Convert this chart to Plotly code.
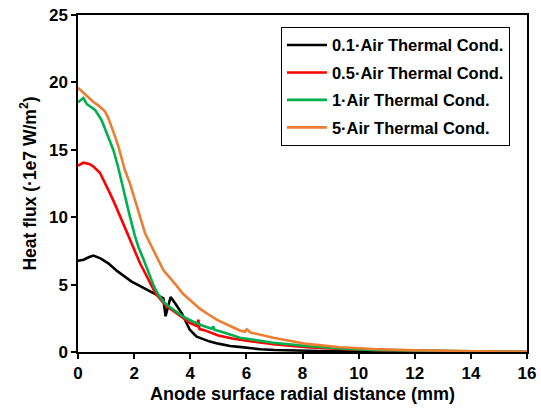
import plotly.graph_objects as go

# 0.1 x Air Thermal Cond.
x_01 = [0, 0.2, 0.4, 0.55, 0.8, 1.08, 1.4, 1.7, 1.91, 2.2, 2.57, 2.92, 3.04, 3.12, 3.2, 3.30, 3.46, 3.7, 3.87, 3.99,
        4.23, 4.5, 4.7, 5.0, 5.42, 5.83, 6.13, 6.5, 7.0, 8, 9, 10, 12, 14, 16]
y_01 = [6.77, 6.85, 7.05, 7.15, 6.95, 6.58, 6.0, 5.55, 5.22, 4.9, 4.47, 4.10, 3.98, 2.65, 3.3, 4.08, 3.61, 2.87, 2.13, 1.63,
        1.14, 0.9, 0.77, 0.62, 0.45, 0.36, 0.27, 0.2, 0.15, 0.09, 0.06, 0.04, 0.02, 0.01, 0]

# 0.5 x Air Thermal Cond.
x_05 = [0, 0.19, 0.4, 0.55, 0.78, 0.95, 1.14, 1.32, 1.50, 1.68, 1.85, 2.03, 2.21, 2.33, 2.48, 2.6, 2.75, 2.98, 3.16,
        3.46, 3.75, 4.0, 4.25, 4.29, 4.33, 4.5, 5.0, 5.5, 6.13, 6.96, 8.15, 9.34, 10.76, 12, 14, 16]
y_05 = [13.82, 14.04, 13.95, 13.75, 13.3, 12.6, 11.77, 10.95, 10.04, 9.15, 8.31, 7.45, 6.58, 6.1, 5.5, 4.95, 4.4, 3.8, 3.4,
        2.95, 2.5, 2.15, 1.92, 2.4, 1.7, 1.62, 1.22, 1.0, 0.8, 0.58, 0.36, 0.22, 0.13, 0.08, 0.04, 0]

# 1 x Air Thermal Cond.
x_1 = [0, 0.19, 0.31, 0.61, 0.84, 1.08, 1.26, 1.42, 1.56, 1.73, 1.85, 2.03, 2.15, 2.33, 2.45, 2.57, 2.7, 2.85, 3.0, 3.16,
       3.46, 3.75, 4.05, 4.4, 4.76, 4.82, 4.86, 5.2, 5.77, 6.13, 6.96, 8.15, 9.34, 10.52, 12, 14, 16]
y_1 = [18.52, 18.85, 18.4, 17.95, 17.21, 15.97, 14.99, 13.8, 12.51, 11.03, 10.04, 8.6, 7.81, 6.9, 6.2, 5.5, 4.9, 4.3, 3.85, 3.5,
       3.05, 2.62, 2.3, 1.98, 1.72, 1.9, 1.65, 1.45, 1.05, 0.94, 0.69, 0.45, 0.27, 0.16, 0.1, 0.05, 0]

# 5 x Air Thermal Cond.
x_5 = [0, 0.19, 0.37, 0.55, 0.72, 0.96, 1.08, 1.2, 1.32, 1.44, 1.67, 1.85, 2.0, 2.21, 2.39, 2.57, 2.86, 3.04, 3.46, 3.75,
       4.05, 4.35, 4.64, 4.94, 5.4, 5.77, 5.95, 6.01, 6.07, 6.15, 6.96, 8.15, 9.34, 10.52, 12, 14, 15, 16]
y_5 = [19.61, 19.25, 18.85, 18.55, 18.3, 17.85, 17.35, 16.71, 16.0, 15.23, 13.5, 12.51, 11.4, 10.04, 8.8, 8.06, 6.83, 6.08, 5.05, 4.3,
       3.75, 3.2, 2.8, 2.4, 1.95, 1.6, 1.5, 1.68, 1.6, 1.45, 1.05, 0.6, 0.35, 0.22, 0.13, 0.08, 0.05, 0]

series = [
    ("0.1·Air Thermal Cond.", x_01, y_01, "#000000"),
    ("0.5·Air Thermal Cond.", x_05, y_05, "#FF0000"),
    ("1·Air Thermal Cond.", x_1, y_1, "#00B050"),
    ("5·Air Thermal Cond.", x_5, y_5, "#ED7D31"),
]

x_ticks = [0, 2, 4, 6, 8, 10, 12, 14, 16]
y_ticks = [0, 5, 10, 15, 20, 25]

fig = go.Figure()
for i, (name, xs, ys, col) in enumerate(series):
    fig.add_trace(go.Scatter(x=xs, y=ys, mode="lines", name=name, legendgroup=str(i),
                             line=dict(color=col, width=2.6)))

family = "Liberation Sans, Arial, sans-serif"
fig.update_layout(
    width=541, height=409,
    margin=dict(l=78, r=14, t=15, b=57),
    paper_bgcolor="white", plot_bgcolor="white",
    font=dict(family=family, size=16, color="black"),
    showlegend=True,
    legend=dict(x=0.452, y=0.965, xanchor="left", yanchor="top",
                bordercolor="black", borderwidth=1, bgcolor="white",
                font=dict(family=family, size=16.5, color="black", weight="bold"),
                tracegroupgap=3, itemwidth=40),
)
fig.update_xaxes(range=[0, 16], tickvals=x_ticks, ticktext=[str(v) for v in x_ticks],
                 showgrid=False, zeroline=False, showline=True, linecolor="black", linewidth=1.5,
                 mirror=True, ticks="outside", ticklen=5, tickcolor="black", tickwidth=1.5,
                 automargin=False,
                 tickfont=dict(family=family, size=17, weight="bold"),
                 title=dict(text="<b>Anode surface radial distance (mm)</b>",
                            font=dict(family=family, size=18), standoff=5))
fig.update_yaxes(range=[0, 25], tickvals=y_ticks, ticktext=[str(v) for v in y_ticks],
                 showgrid=False, zeroline=False, showline=True, linecolor="black", linewidth=1.5,
                 mirror=True, ticks="outside", ticklen=5, tickcolor="black", tickwidth=1.5,
                 automargin=False,
                 tickfont=dict(family=family, size=17, weight="bold"),
                 title=dict(text="<b>Heat flux (·1e7 W/m<sup>2</sup>)</b>",
                            font=dict(family=family, size=17.5), standoff=8))

fig.write_html("out.html")
